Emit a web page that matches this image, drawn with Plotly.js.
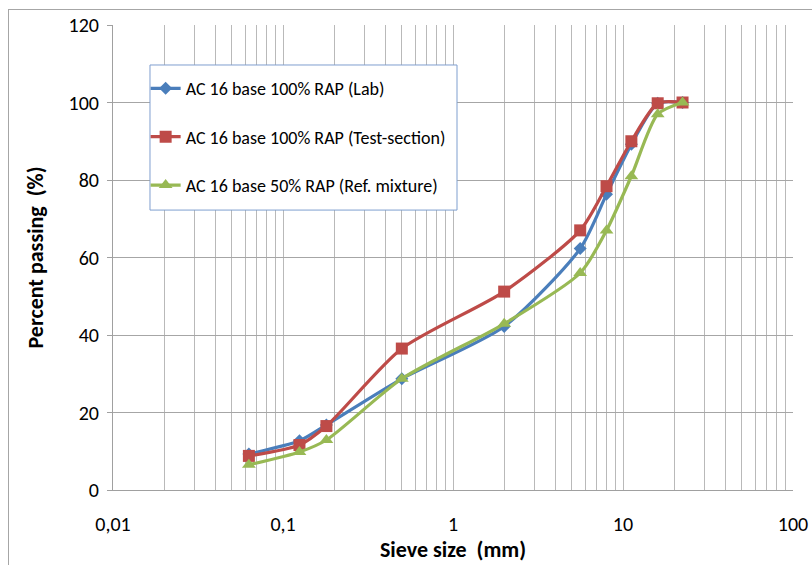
<!DOCTYPE html>
<html>
<head>
<meta charset="utf-8">
<script src="https://cdn.plot.ly/plotly-3.0.1.min.js"></script>
<style>
html,body{margin:0;padding:0;overflow:hidden;background:#fff;}
#wrap{position:relative;width:812px;height:565px;overflow:hidden;}
#chart{position:absolute;left:0;top:0;width:812px;height:565px;}
#frame{position:absolute;left:8px;top:9px;width:900px;height:900px;border:1px solid #a6a6a6;pointer-events:none;}
</style>
</head>
<body>
<div id="wrap"><div id="chart"></div><div id="frame"></div></div>
<script>
const sieveSizes = [0.063, 0.125, 0.18, 0.5, 2, 5.6, 8, 11.2, 16, 22.4];
const seriesNames = [
  "AC 16 base 100% RAP (Lab)",
  "AC 16 base 100% RAP (Test-section)",
  "AC 16 base 50% RAP (Ref. mixture)"
];
const labPassing = [9.3, 12.7, 16.8, 28.7, 42.2, 62.3, 76.3, 89.2, 99.8, 100];
const testSectionPassing = [8.8, 11.6, 16.5, 36.5, 51.2, 67.0, 78.4, 90.0, 99.8, 100];
const refMixturePassing = [6.5, 9.8, 12.9, 28.7, 42.9, 56.0, 67.0, 81.0, 97.0, 100];
const xDecades = [0.01, 0.1, 1, 10, 100];
const xDecadeLabels = ["0,01", "0,1", "1", "10", "100"];

const colors = ["#4A7EBB", "#BE4B48", "#98B954"];
const symbols = ["diamond", "square", "triangle-up"];
const sizes = [10, 12, 12];
const values = [labPassing, testSectionPassing, refMixturePassing];

const traces = values.map((v, i) => ({
  x: sieveSizes, y: v, name: seriesNames[i], type: "scatter", mode: "lines+markers",
  line: {color: colors[i], width: 3.2, shape: "spline", smoothing: 0.7},
  marker: {color: colors[i], symbol: symbols[i], size: sizes[i]},
  legendgroup: "g" + i
}));

// full set of gridline positions (1..9 per decade)
const tickVals = [], tickText = [];
for (let d = 0; d < xDecades.length; d++) {
  const base = xDecades[d];
  for (let m = 1; m <= 9; m++) {
    if (d === xDecades.length - 1 && m > 1) break;
    tickVals.push(base * m);
    tickText.push(m === 1 ? xDecadeLabels[d] : "");
  }
}

const font = "Carlito, Calibri, 'Open Sans', 'Liberation Sans', sans-serif";
const layout = {
  width: 812, height: 565,
  margin: {l: 113, r: 19, t: 25, b: 75},
  paper_bgcolor: "rgba(0,0,0,0)", plot_bgcolor: "#fff",
  font: {family: font, size: 20, color: "#000"},
  showlegend: true,
  legend: {
    x: 0.048, y: 0.903, xanchor: "left", yanchor: "top",
    bgcolor: "rgba(0,0,0,0)", borderwidth: 0,
    font: {family: font, size: 18, color: "#000"},
    tracegroupgap: 22, traceorder: "grouped", itemwidth: 30
  },
  shapes: [{
    type: "rect", xref: "paper", yref: "paper", layer: "above",
    x0: 0.0544, x1: 0.5059, y0: 0.602, y1: 0.914,
    fillcolor: "#fff", line: {color: "#7F9FCF", width: 1}
  }],
  xaxis: {
    type: "log", range: [-2, 2], tickmode: "array", tickvals: tickVals, ticktext: tickText,
    showgrid: true, gridcolor: "#b9b9b9", gridwidth: 1,
    showline: true, linecolor: "#a0a0a0", linewidth: 1, ticks: "", ticklen: 0,
    tickfont: {size: 20}, zeroline: false, ticklabelstandoff: 16,
    title: {text: "<b>Sieve size  (mm)</b>", font: {size: 22}, standoff: 4}
  },
  yaxis: {
    range: [0, 120], dtick: 20, tick0: 0,
    showgrid: true, gridcolor: "#a6a6a6", gridwidth: 1,
    showline: true, linecolor: "#a0a0a0", linewidth: 1, ticks: "outside", ticklen: 5, tickcolor: "#a0a0a0",
    tickfont: {size: 20}, zeroline: false, ticklabelstandoff: 4,
    title: {text: "<b>Percent passing  (%)</b>", font: {size: 22}, standoff: 18}
  }
};
Plotly.newPlot("chart", traces, layout, {displayModeBar: false, staticPlot: true});
</script>
</body>
</html>
